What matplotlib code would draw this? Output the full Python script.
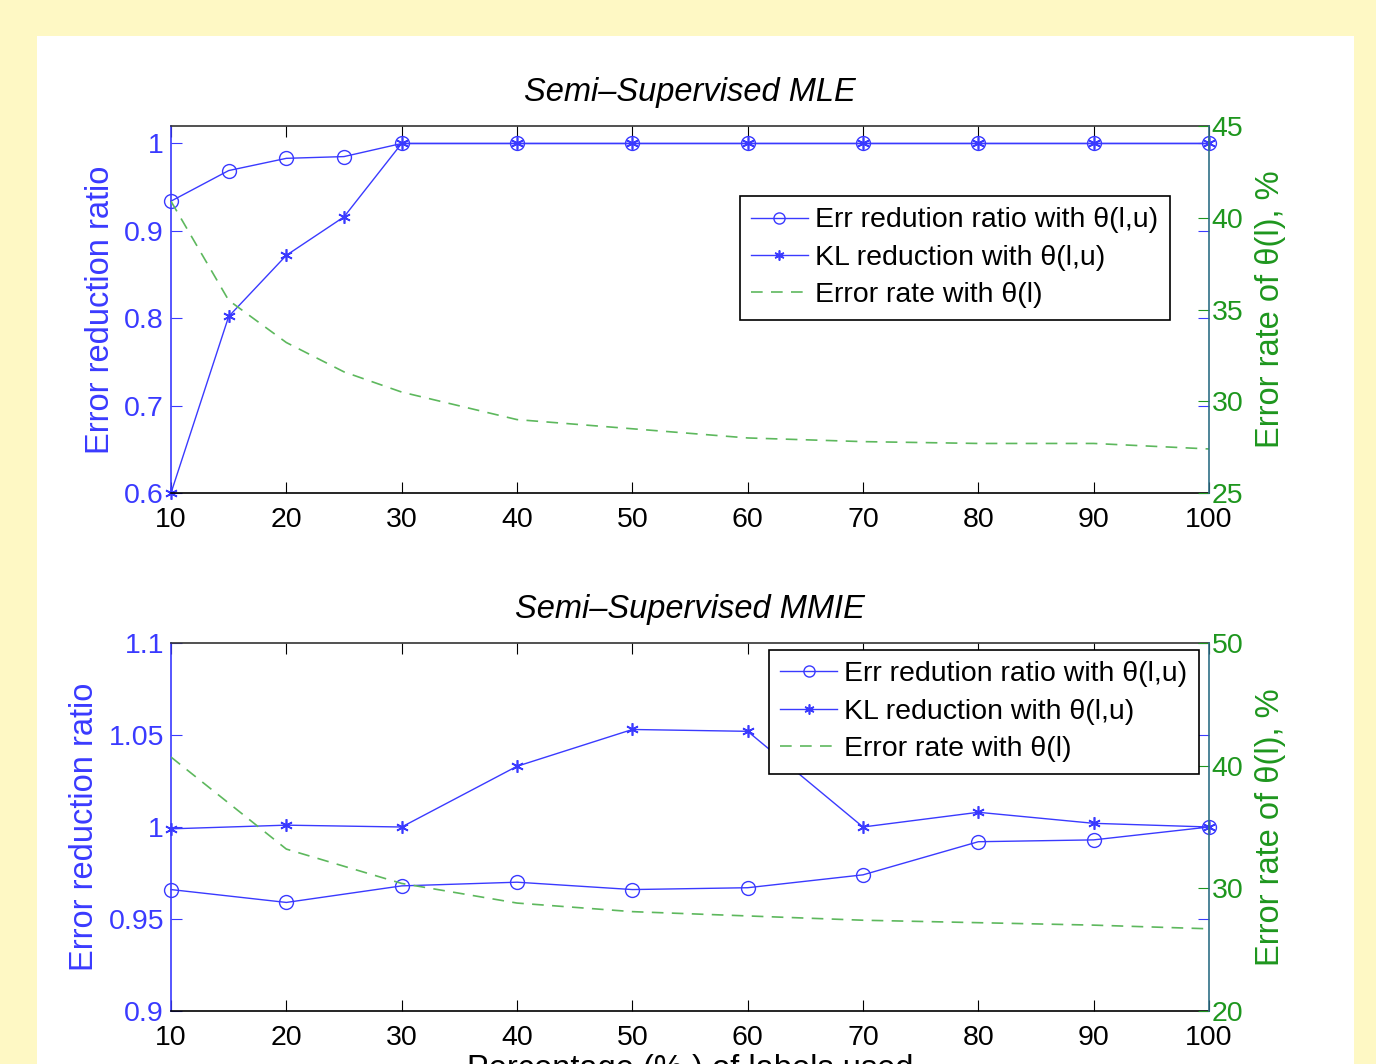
import matplotlib
matplotlib.use("Agg")
import matplotlib.pyplot as plt
from matplotlib.patches import Rectangle

plt.rcParams["font.family"] = ["Liberation Sans", "DejaVu Sans"]

BG_YELLOW = "#FEF8C4"
BLUE = "#3A3AFF"
GREEN = "#1E961E"
DASH_GREEN = "#5DB85D"
RIGHT_SPINE = "#2F6F86"

# ── data ─────────────────────────────────────────────────────────────────────
x_mle = [10, 15, 20, 25, 30, 40, 50, 60, 70, 80, 90, 100]
err_mle = [0.934, 0.969, 0.983, 0.985, 1, 1, 1, 1, 1, 1, 1, 1]
kl_mle = [0.600, 0.802, 0.872, 0.916, 1, 1, 1, 1, 1, 1, 1, 1]
rate_mle = [40.9, 35.5, 33.2, 31.6, 30.5, 29.0, 28.5, 28.0, 27.8, 27.7, 27.7, 27.4]

x_mmie = [10, 20, 30, 40, 50, 60, 70, 80, 90, 100]
err_mmie = [0.966, 0.959, 0.968, 0.970, 0.966, 0.967, 0.974, 0.992, 0.993, 1.000]
kl_mmie = [0.999, 1.001, 1.000, 1.033, 1.053, 1.052, 1.000, 1.008, 1.002, 1.000]
rate_mmie = [40.7, 33.2, 30.4, 28.8, 28.1, 27.75, 27.4, 27.2, 27.0, 26.7]

x_ticks = [10, 20, 30, 40, 50, 60, 70, 80, 90, 100]
mle_yticks = [0.6, 0.7, 0.8, 0.9, 1.0]
mle_ylabels = ["0.6", "0.7", "0.8", "0.9", "1"]
mle_rticks = [25, 30, 35, 40, 45]
mmie_yticks = [0.9, 0.95, 1.0, 1.05, 1.1]
mmie_ylabels = ["0.9", "0.95", "1", "1.05", "1.1"]
mmie_rticks = [20, 30, 40, 50]

labels = ["Err redution ratio with θ(l,u)",
          "KL reduction with θ(l,u)",
          "Error rate with θ(l)"]

FS = 20.5
LABEL_FS = 23.5

fig = plt.figure(figsize=(13.76, 10.64), dpi=100)
fig.patch.set_facecolor(BG_YELLOW)
fig.patches.append(Rectangle((37 / 1376, 0), (1354 - 37) / 1376, 1 - 36 / 1064,
                             transform=fig.transFigure, facecolor="white",
                             edgecolor="none", zorder=-10))


def panel(rect, x, err, kl, rate, ylim, yticks, ylabels, rlim, rticks,
          title, leg_anchor):
    ax = fig.add_axes(rect)
    ax.set_facecolor("white")
    axr = ax.twinx()
    l1, = ax.plot(x, err, color=BLUE, lw=1.0, marker="o", ms=10, mfc="none",
                  mew=1.0, clip_on=False)
    l2, = ax.plot(x, kl, color=BLUE, lw=1.0, marker=(6, 2, 0), ms=9,
                  mew=1.2, clip_on=False)
    l3, = axr.plot(x, rate, color=DASH_GREEN, lw=1.2, dashes=(7, 5))
    ax.set_xlim(10, 100)
    ax.set_ylim(*ylim)
    axr.set_ylim(*rlim)
    ax.set_xticks(x_ticks)
    ax.set_xticklabels([str(t) for t in x_ticks], fontsize=FS)
    ax.set_yticks(yticks)
    ax.set_yticklabels(ylabels, fontsize=FS, color=BLUE)
    axr.set_yticks(rticks)
    axr.set_yticklabels([str(t) for t in rticks], fontsize=FS, color=GREEN)

    ax.tick_params(axis="x", direction="in", length=8, width=0.8, top=True,
                   pad=10, colors="black")
    ax.tick_params(axis="y", direction="in", length=8, width=0.8, right=True,
                   labelright=False, colors=BLUE, pad=5)
    axr.tick_params(axis="y", direction="in", length=8, width=0.8,
                    colors=GREEN, pad=2)

    ax.spines["left"].set_color(BLUE)
    ax.spines["bottom"].set_color("black")
    ax.spines["top"].set_color("#333333")
    ax.spines["right"].set_visible(False)
    for s in ["left", "top", "bottom"]:
        axr.spines[s].set_visible(False)
    axr.spines["right"].set_color(RIGHT_SPINE)
    for s in ax.spines.values():
        s.set_linewidth(1.2)
    axr.spines["right"].set_linewidth(1.2)

    ax.set_ylabel("Error reduction ratio", fontsize=LABEL_FS, color=BLUE,
                  labelpad=6)
    axr.set_ylabel("Error rate of θ(l), %", fontsize=LABEL_FS, color=GREEN,
                   labelpad=8)
    ax.set_title(title, fontsize=LABEL_FS, style="italic", pad=18)

    leg = axr.legend([l1, l2, l3], labels, loc="upper right",
                     bbox_to_anchor=leg_anchor, borderaxespad=0, fontsize=FS,
                     fancybox=False, framealpha=1, edgecolor="black",
                     handlelength=2.0, handletextpad=0.25, labelspacing=0.4,
                     borderpad=0.4, markerscale=0.8)
    leg.get_frame().set_linewidth(1.2)
    return ax


W = (1209 - 171) / 1376
panel([171 / 1376, 1 - 493 / 1064, W, (493 - 126) / 1064],
      x_mle, err_mle, kl_mle, rate_mle, (0.6, 1.02), mle_yticks, mle_ylabels,
      (25, 45), mle_rticks, "Semi–Supervised MLE", (0.962, 0.809))

ax2 = panel([171 / 1376, 1 - 1011 / 1064, W, (1011 - 643) / 1064],
            x_mmie, err_mmie, kl_mmie, rate_mmie, (0.9, 1.1), mmie_yticks,
            mmie_ylabels, (20, 50), mmie_rticks, "Semi–Supervised MMIE",
            (0.990, 0.981))
ax2.set_xlabel("Percentage (% ) of labels used", fontsize=LABEL_FS, labelpad=2)

plt.savefig("out.png", dpi=100, facecolor=fig.get_facecolor())
